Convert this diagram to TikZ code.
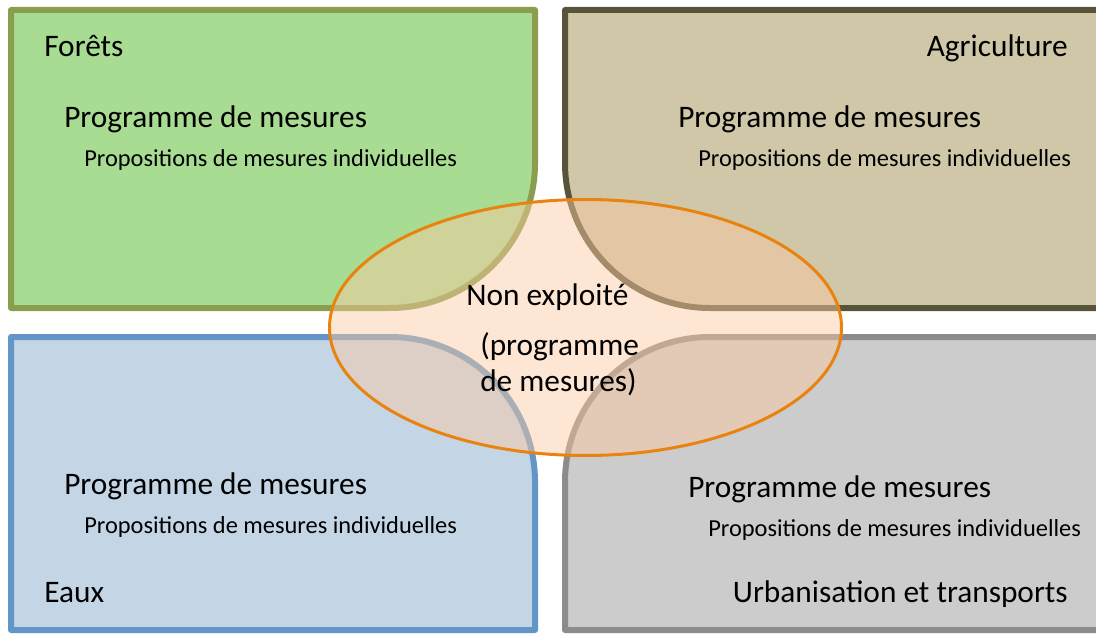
\documentclass[tikz,border=0pt]{standalone}
\usepackage{fontspec}
\setmainfont{Carlito}
\usepackage{xcolor}
\usepackage{tikz}
\usetikzlibrary{positioning}

\definecolor{foretfill}{RGB}{168,220,146}
\definecolor{foretline}{RGB}{138,158,78}
\definecolor{agrifill}{RGB}{207,199,167}
\definecolor{agriline}{RGB}{88,84,58}
\definecolor{eauxfill}{RGB}{196,214,230}
\definecolor{eauxline}{RGB}{98,150,200}
\definecolor{urbfill}{RGB}{204,204,204}
\definecolor{urbline}{RGB}{140,140,140}
\definecolor{peach}{RGB}{251,201,161}
\definecolor{orangeline}{RGB}{233,131,16}

\begin{document}
\begin{tikzpicture}[x=0.75pt,y=0.75pt,line join=round,
                    box/.style={line width=4.5pt}]
\tikzstyle{every node}=[inner sep=0pt,text=black]
\tikzstyle{big}=[font=\fontsize{23.5}{28}\selectfont]
\tikzstyle{small}=[font=\fontsize{18.3}{22}\selectfont]
\clip (0,0) rectangle (1096,633);

% the four sectors
\filldraw[box,fill=foretfill,draw=foretline] (11,623) -- (535,623) -- (535,470)
  arc[start angle=0,end angle=-90,radius=145] -- (11,325) -- cycle;
\filldraw[box,fill=agrifill,draw=agriline] (1104,623) -- (565,623) -- (565,470)
  arc[start angle=180,end angle=270,radius=145] -- (1104,325) -- cycle;
\filldraw[box,fill=eauxfill,draw=eauxline] (11,3) -- (11,296) -- (390,296)
  arc[start angle=90,end angle=0,radius=145] -- (535,3) -- cycle;
\filldraw[box,fill=urbfill,draw=urbline] (1104,296) -- (710,296)
  arc[start angle=90,end angle=180,radius=145] -- (565,3) -- (1104,3) -- cycle;

% the shared part
\filldraw[fill=peach,fill opacity=0.47,draw=orangeline,line width=2.25pt]
  (585.5,305.5) ellipse[x radius=256,y radius=128];

\node[big,anchor=base west] (FORETS) at (44,576) {Forêts};
\node[big,anchor=base west] (FPROG) at (64,505) {Programme de mesures};
\node[small,anchor=base west] (FPROP) at ([shift={(20,-39)}]FPROG.base west) {Propositions de mesures individuelles};

\node[big,anchor=base east] (AGRI) at (1068,576) {Agriculture};
\node[big,anchor=base west] (APROG) at (678,505) {Programme de mesures};
\node[small,anchor=base west] (APROP) at ([shift={(20,-39)}]APROG.base west) {Propositions de mesures individuelles};

\node[big,anchor=base west] (EPROG) at (64,139) {Programme de mesures};
\node[small,anchor=base west] (EPROP) at ([shift={(20,-39)}]EPROG.base west) {Propositions de mesures individuelles};
\node[big,anchor=base west] (EAUX) at (44,31) {Eaux};

\node[big,anchor=base west] (UPROG) at (688,136) {Programme de mesures};
\node[small,anchor=base west] (UPROP) at ([shift={(20,-39)}]UPROG.base west) {Propositions de mesures individuelles};
\node[big,anchor=base east] (URB) at (1068,31) {Urbanisation et transports};

\node[big,anchor=base west] (NON) at (466,328) {Non exploité};
\node[big,anchor=base west] (NPROG) at (480,278) {(programme};
\node[big,anchor=base west] (NMES) at (480,242) {de mesures)};
\end{tikzpicture}
\end{document}
